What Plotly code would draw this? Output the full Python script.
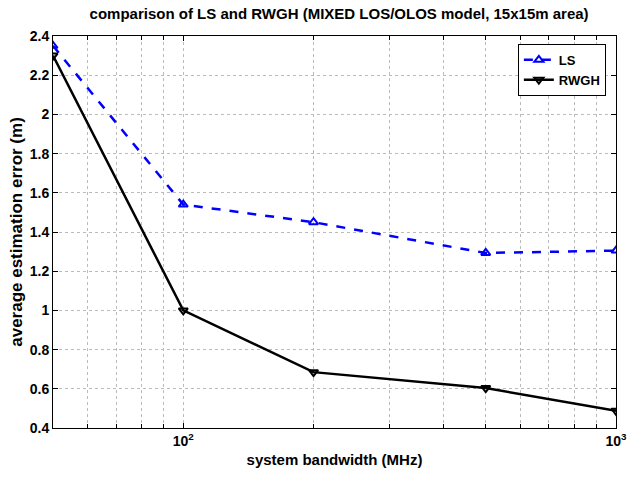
import plotly.graph_objects as go

bandwidth = [50, 100, 200, 500, 1000]
ls_err = [2.35, 1.54, 1.45, 1.293, 1.305]
rwgh_err = [2.30, 1.00, 0.685, 0.604, 0.488]

x_major = [100, 1000]
x_major_text = ["<b>10<sup>2</sup></b>", "<b>10<sup>3</sup></b>"]
x_minor = [50, 60, 70, 80, 90, 200, 300, 400, 500, 600, 700, 800, 900]
y_ticks = [0.4, 0.6, 0.8, 1.0, 1.2, 1.4, 1.6, 1.8, 2.0, 2.2, 2.4]
y_text = ["0.4", "0.6", "0.8", "1", "1.2", "1.4", "1.6", "1.8", "2", "2.2", "2.4"]

font = "Liberation Sans, Arial, sans-serif"

fig = go.Figure()
fig.add_trace(go.Scatter(
    x=bandwidth, y=ls_err, name="<b>LS</b>", mode="lines+markers",
    line=dict(color="#0000ff", width=2.5, dash="dash"),
    marker=dict(symbol="triangle-up-open", size=8, color="#0000ff", line=dict(width=2, color="#0000ff")),
))
fig.add_trace(go.Scatter(
    x=bandwidth, y=rwgh_err, name="<b>RWGH</b>", mode="lines+markers",
    line=dict(color="#000000", width=2.5),
    marker=dict(symbol="triangle-down-open", size=8, color="#000000", line=dict(width=2, color="#000000")),
))

axis_common = dict(
    showline=True, linecolor="#000000", linewidth=1, mirror="allticks",
    ticks="inside", ticklen=5, tickcolor="#000000",
    showgrid=True, gridcolor="#bbbbbb", griddash="dot", gridwidth=1,
    zeroline=False, ticklabeloverflow="allow", automargin=False,
    tickfont=dict(family=font, size=14, color="#000000"),
)

fig.update_layout(
    width=628, height=479,
    margin=dict(l=53, r=12, t=36, b=51),
    paper_bgcolor="white", plot_bgcolor="white",
    font=dict(family=font, color="#000000"),
    title=dict(text="<b>comparison of LS and RWGH (MIXED LOS/OLOS model, 15x15m area)</b>",
               x=0.54, xanchor="center", y=0.972, yanchor="middle",
               font=dict(family=font, size=15, color="#000000")),
    xaxis=dict(type="log", range=[1.69897, 3.0], tickmode="array", tickvals=x_major, ticktext=x_major_text,
               minor=dict(tickvals=x_minor, ticks="inside", ticklen=4, tickcolor="#000000",
                          showgrid=True, gridcolor="#bbbbbb", griddash="dot", gridwidth=1),
               title=dict(text="<b>system bandwidth (MHz)</b>", font=dict(family=font, size=15), standoff=6),
               **axis_common),
    yaxis=dict(range=[0.4, 2.4], tickvals=y_ticks, ticktext=["<b>%s</b>" % t for t in y_text],
               title=dict(text="<b>average estimation error (m)</b>", font=dict(family=font, size=17), standoff=2),
               **axis_common),
    legend=dict(x=0.982, y=0.98, xanchor="right", yanchor="top",
                bordercolor="#000000", borderwidth=1, bgcolor="white",
                font=dict(family=font, size=13, color="#000000"),
                tracegroupgap=0, itemwidth=30),
    showlegend=True,
)

fig.write_html("out.html")
